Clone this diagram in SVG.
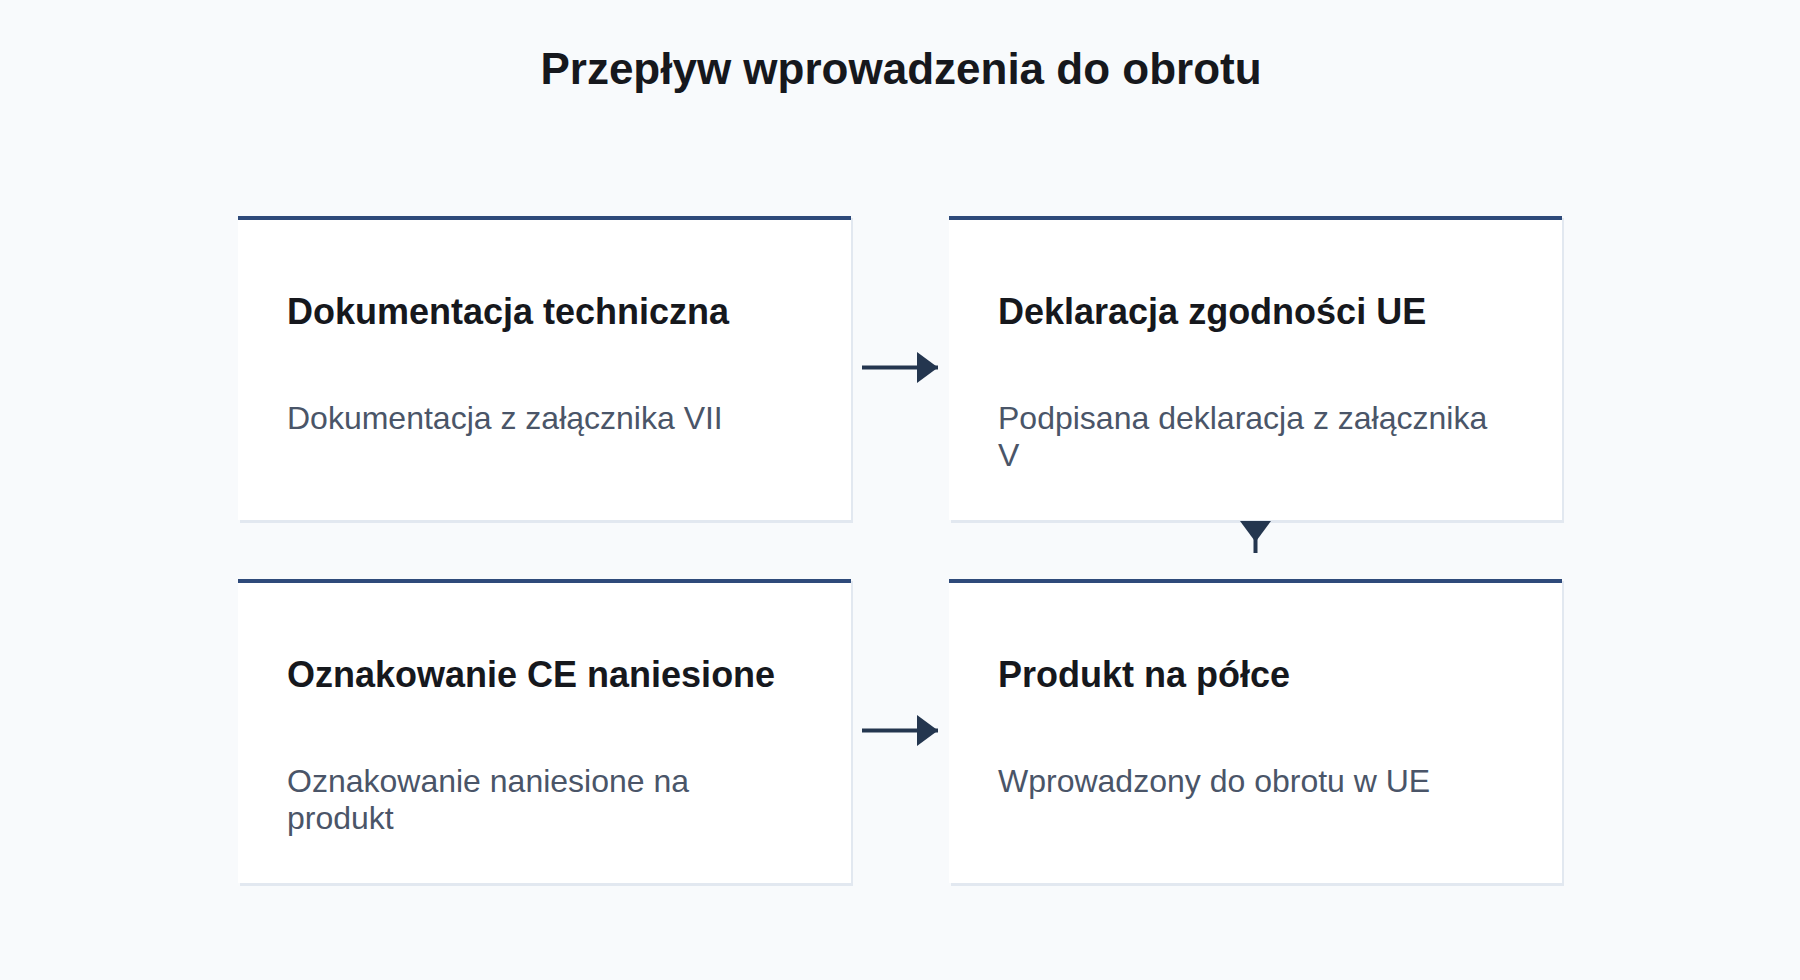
<svg xmlns="http://www.w3.org/2000/svg" width="1800" height="980" viewBox="0 0 1800 980">
  <style>
    .title { font-family: "Liberation Sans", Arial, sans-serif; font-size: 44px; font-weight: bold; fill: #16181d; }
    .head { font-family: "Liberation Sans", Arial, sans-serif; font-size: 36px; font-weight: bold; fill: #16181d; }
    .desc { font-family: "Liberation Sans", Arial, sans-serif; font-size: 32px; fill: #4a5568; }
    .card { fill: #ffffff; }
    .shadow { fill: #e2e8f0; }
    .bar { fill: #2e4a7a; }
    .conn { stroke: #24364f; stroke-width: 4; fill: none; }
  </style>
  <defs>
    <marker id="arrow" markerUnits="userSpaceOnUse" markerWidth="21" markerHeight="31" refX="21" refY="15.5" orient="auto" viewBox="0 0 21 31">
      <path d="M0,0 L21,15.5 L0,31 Z" fill="#24364f"/>
    </marker>
  </defs>
  <rect x="0" y="0" width="1800" height="980" fill="#f8fafc"/>
  <text class="title" x="901" y="84" text-anchor="middle">Przepływ wprowadzenia do obrotu</text>

  <g id="node-dokumentacja">
    <rect class="shadow" x="240" y="218" width="613" height="305"/>
    <rect class="card" x="238" y="216" width="613" height="304"/>
    <rect class="bar" x="238" y="216" width="613" height="4"/>
    <text class="head" x="287" y="324">Dokumentacja techniczna</text>
    <text class="desc" x="287" y="429">Dokumentacja z załącznika VII</text>
  </g>

  <g id="node-deklaracja">
    <rect class="shadow" x="951" y="218" width="613" height="305"/>
    <rect class="card" x="949" y="216" width="613" height="304"/>
    <rect class="bar" x="949" y="216" width="613" height="4"/>
    <text class="head" x="998" y="324">Deklaracja zgodności UE</text>
    <text class="desc" x="998" y="429">Podpisana deklaracja z załącznika</text>
    <text class="desc" x="998" y="466">V</text>
  </g>

  <g id="node-oznakowanie">
    <rect class="shadow" x="240" y="581" width="613" height="305"/>
    <rect class="card" x="238" y="579" width="613" height="304"/>
    <rect class="bar" x="238" y="579" width="613" height="4"/>
    <text class="head" x="287" y="687">Oznakowanie CE naniesione</text>
    <text class="desc" x="287" y="792">Oznakowanie naniesione na</text>
    <text class="desc" x="287" y="829">produkt</text>
  </g>

  <g id="node-produkt">
    <rect class="shadow" x="951" y="581" width="613" height="305"/>
    <rect class="card" x="949" y="579" width="613" height="304"/>
    <rect class="bar" x="949" y="579" width="613" height="4"/>
    <text class="head" x="998" y="687">Produkt na półce</text>
    <text class="desc" x="998" y="792">Wprowadzony do obrotu w UE</text>
  </g>

  <g id="connectors">
    <path class="conn" d="M862,367.5 L938,367.5" marker-end="url(#arrow)"/>
    <path class="conn" d="M1255.5,524 L1255.5,542 L1255.5,553" marker-mid="url(#arrow)"/>
    <path class="conn" d="M862,730.5 L938,730.5" marker-end="url(#arrow)"/>
  </g>
</svg>
